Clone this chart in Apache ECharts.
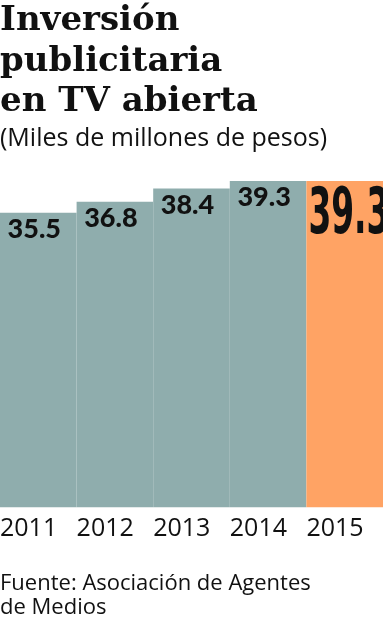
<!DOCTYPE html>
<html><head><meta charset="utf-8">
<script src="https://cdn.jsdelivr.net/npm/echarts@6/dist/echarts.min.js"></script>
<style>html,body{margin:0;padding:0;background:#fff}#c{width:383px;height:620px}</style>
</head><body><div id="c"></div>
<script>
const years = ['2011','2012','2013','2014','2015'];
const values = [35.5, 36.8, 38.4, 39.3, 39.3];
const highlightIndex = 4;
const tickLabels = ['2011','2012','2013','2014','2015',''];
const titleText = 'Inversión\npublicitaria\nen TV abierta';
const subtitleText = '(Miles de millones de pesos)';
const sourceText = 'Fuente: Asociación de Agentes\nde Medios';

const TEAL = '#8FADAD', ORANGE = '#FFA364';
const chart = echarts.init(document.getElementById('c'), null, {renderer:'canvas'});
chart.setOption({
  animation:false,
  backgroundColor:'#fff',
  title:[
    {text:titleText, left:0, top:1, padding:0,
     textStyle:{fontFamily:'DejaVu Serif', fontWeight:'bold', fontSize:34, lineHeight:40.5, color:'#111'}},
    {text:subtitleText, left:0, top:124, padding:0,
     textStyle:{fontFamily:'Open Sans', fontWeight:'normal', fontSize:25, lineHeight:30, color:'#111'}},
    {text:sourceText, left:0, top:572, padding:0,
     textStyle:{fontFamily:'Open Sans', fontWeight:'normal', fontSize:22, lineHeight:24, color:'#111'}}
  ],
  grid:{left:0, right:0, top:175.3, bottom:112.7, containLabel:false, outerBoundsMode:'none'},
  xAxis:[
    {type:'category', data:years, boundaryGap:true, position:'bottom',
     axisLine:{show:false}, axisTick:{show:false}, axisLabel:{show:false}},
    {type:'category', data:tickLabels, boundaryGap:false, position:'bottom',
     axisLine:{show:false}, axisTick:{show:false},
     axisLabel:{show:true, interval:0, align:'left', margin:9, hideOverlap:false,
       fontFamily:'Open Sans', fontSize:25, color:'#111'}}
  ],
  yAxis:{type:'value', min:0, max:40, show:false, splitLine:{show:false}},
  series:[
    {type:'bar', xAxisIndex:0, barCategoryGap:0, barGap:0,
     data: values.map((v,i)=>({value:v,
       itemStyle:{color: i===highlightIndex?ORANGE:TEAL},
       label:{show: i!==highlightIndex}})),
     label:{show:true, position:'insideTop', distance:3, offset:[-4,0],
       fontFamily:'Lato', fontWeight:900, fontSize:27, color:'#111'}},
    {type:'custom', xAxisIndex:0, silent:true, z:5,
     data:[[highlightIndex, values[highlightIndex]]],
     renderItem:function(params, api){
       const p = api.coord([api.value(0), api.value(1)]);
       const bw = api.size([1,0])[0];
       return {type:'text', x: p[0]-bw/2+2, y: p[1]+3, scaleX:0.57,
         style:{text: String(api.value(1)), x:0, y:0, textAlign:'left', textVerticalAlign:'top',
           font:"bold 64px 'Liberation Sans Narrow', 'DejaVu Sans Condensed', sans-serif", fill:'#111'}};
     }}
  ]
});
</script></body></html>
